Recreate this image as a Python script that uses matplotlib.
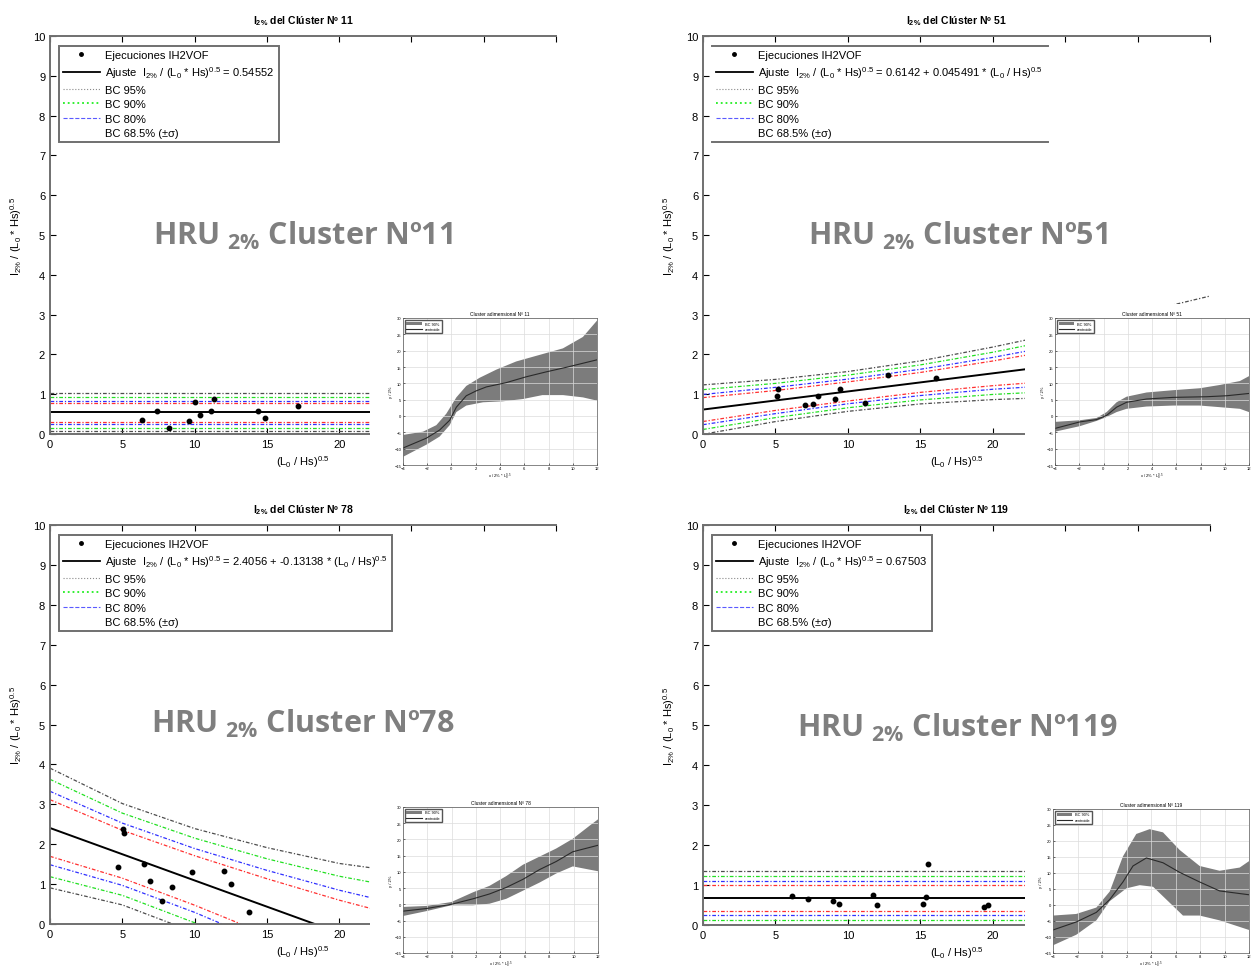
import matplotlib.pyplot as plt
from matplotlib.lines import Line2D
from matplotlib.patches import Rectangle
import numpy as np

plt.rcParams['font.family'] = ['Liberation Sans', 'DejaVu Sans']
plt.rcParams['mathtext.default'] = 'regular'

W, H = 1259, 970

# stations along (L0/Hs)^0.5 where fit and band widths were read
x_st = [0, 5, 10, 15, 20, 22.2, 35]

# --- cluster 11 (constant fit)
pts11_x = [6.38, 7.38, 8.25, 9.61, 10.03, 10.37, 11.13, 11.34, 14.36, 14.87, 17.17]
pts11_y = [0.34, 0.59, 0.15, 0.33, 0.81, 0.48, 0.59, 0.88, 0.59, 0.41, 0.70]
fit11_y = [0.5455] * 7
hw11_95 = [0.48] * 7
hw11_90 = [0.39] * 7
hw11_80 = [0.295] * 7
hw11_68 = [0.245] * 7

# --- cluster 51 (linear fit)
pts51_x = [5.18, 5.13, 7.01, 7.56, 7.95, 9.12, 9.46, 11.18, 12.78, 16.1]
pts51_y = [1.13, 0.96, 0.73, 0.75, 0.95, 0.88, 1.13, 0.78, 1.47, 1.40]
fit51_y = [0.614, 0.842, 1.069, 1.296, 1.524, 1.624, 2.206]
hw51_95 = [0.62, 0.53, 0.50, 0.54, 0.66, 0.73, 1.26]
hw51_90 = [0.50, 0.43, 0.41, 0.44, 0.53, 0.59, 1.02]
hw51_80 = [0.38, 0.33, 0.31, 0.33, 0.40, 0.45, 0.77]
hw51_68 = [0.30, 0.25, 0.24, 0.25, 0.31, 0.35, 0.59]

# --- cluster 78 (linear fit)
pts78_x = [4.73, 5.03, 5.14, 6.50, 6.92, 7.77, 8.41, 9.80, 12.03, 12.52, 13.76]
pts78_y = [1.43, 2.38, 2.27, 1.50, 1.08, 0.57, 0.92, 1.30, 1.33, 0.99, 0.29]
fit78_y = [2.406, 1.749, 1.092, 0.435, -0.222, -0.511, -2.192]
hw78_95 = [1.50, 1.27, 1.30, 1.48, 1.74, 1.92, 2.9]
hw78_90 = [1.22, 1.03, 1.06, 1.20, 1.42, 1.56, 2.4]
hw78_80 = [0.92, 0.78, 0.80, 0.91, 1.07, 1.17, 1.8]
hw78_68 = [0.71, 0.60, 0.62, 0.70, 0.82, 0.90, 1.4]

# --- cluster 119 (constant fit)
pts119_x = [6.12, 7.26, 9.00, 9.39, 11.75, 12.03, 15.17, 15.42, 15.53, 19.43, 19.70]
pts119_y = [0.715, 0.65, 0.60, 0.52, 0.76, 0.50, 0.52, 0.69, 1.52, 0.45, 0.50]
fit119_y = [0.675] * 7
hw119_95 = [0.67] * 7
hw119_90 = [0.545] * 7
hw119_80 = [0.425] * 7
hw119_68 = [0.325] * 7

# --- inset curves (centroid and 90% band)
c11_x = [-4, -2.08, -0.98, -0.15, 0.4, 1.22, 2.04, 2.87, 4.5, 6.16, 7.8, 9.46, 12]
c11_y = [-9.8, -6.8, -4.3, -1.3, 2.7, 6.2, 7.7, 8.9, 10.2, 12.0, 13.5, 14.9, 17.2]
u11_x = [-4, -2.35, -1.25, -0.43, 0.4, 1.22, 2.32, 3.7, 5.34, 7.26, 9.19, 10.84, 12]
u11_y = [-5.8, -4.8, -2.8, 0.7, 5.7, 9.2, 11.7, 14.2, 16.7, 18.7, 20.7, 24.2, 29.2]
l11_x = [-4, -2.08, -0.98, -0.15, 0.4, 1.22, 2.6, 4.24, 5.9, 7.5, 9.2, 10.84, 12]
l11_y = [-12.5, -8.8, -6.3, -2.8, 1.2, 3.2, 4.2, 4.5, 5.2, 6.4, 6.4, 5.7, 4.7]

c51_x = [-4, -1.94, -0.57, 0.26, 1.08, 1.9, 3.55, 5.75, 8.5, 10.15, 12]
c51_y = [-3.8, -1.8, -1.1, 0.2, 2.7, 4.2, 5.2, 5.7, 5.9, 6.2, 6.9]
u51_x = [-4, -1.94, -0.57, 0.26, 1.08, 1.9, 3.55, 5.75, 7.95, 9.6, 11.25, 12]
u51_y = [-1.8, -1.3, -0.6, 1.2, 4.2, 5.9, 7.2, 7.9, 8.5, 9.5, 10.7, 12.2]
l51_x = [-4, -1.94, -0.57, 0.26, 1.08, 1.9, 3.55, 5.75, 7.95, 9.6, 11.25, 12]
l51_y = [-4.8, -3.1, -1.5, -0.3, 1.2, 2.2, 2.9, 3.2, 3.2, 2.7, 2.2, 1.2]

c78_x = [-4, -2.09, -0.04, 1.74, 3.1, 4.47, 5.84, 7.2, 8.57, 9.93, 12]
c78_y = [-2.1, -1.3, 0.0, 1.7, 3.2, 5.2, 7.7, 10.7, 13.2, 16.2, 18.2]
u78_x = [-4, -2.09, -0.04, 1.74, 3.1, 4.47, 5.84, 7.2, 8.57, 9.93, 11.3, 12]
u78_y = [-0.8, -0.5, 0.7, 3.7, 5.7, 8.7, 12.2, 14.7, 17.2, 20.2, 24.2, 26.2]
l78_x = [-4, -2.09, -0.04, 1.74, 3.1, 4.47, 5.84, 7.2, 8.57, 9.93, 11.3, 12]
l78_y = [-3.6, -2.1, -0.3, -0.3, 0.2, 1.7, 4.2, 6.7, 9.5, 11.7, 10.7, 10.2]

c119_x = [-4, -2.1, -0.46, 0.63, 1.71, 2.53, 3.62, 4.98, 6.34, 7.97, 9.6, 12]
c119_y = [-7.8, -5.3, -2.3, 1.7, 7.2, 12.2, 14.7, 13.2, 10.2, 7.2, 4.4, 3.2]
u119_x = [-4, -2.1, -0.46, 0.63, 1.71, 2.8, 3.89, 4.98, 6.34, 7.97, 9.6, 11.24, 12]
u119_y = [-3.3, -2.8, -0.8, 4.2, 15.2, 22.2, 23.7, 22.7, 17.2, 12.2, 10.7, 11.7, 13.7]
l119_x = [-4, -2.1, -0.46, 0.63, 1.99, 3.08, 4.17, 5.8, 6.61, 7.97, 9.6, 12]
l119_y = [-12.6, -9.3, -4.8, 1.2, 5.2, 6.2, 5.7, -0.3, -3.3, -3.3, -4.8, -7.8]

band_colors = ['#4d4d4d', '#22e022', '#3030ff', '#ff3030']
band_dash = (0, (3, 1.5, 1, 1.5))

fig = plt.figure(figsize=(W / 100, H / 100), dpi=100)


def frac(l, t, r, b):
    return [l / W, 1 - b / H, (r - l) / W, (b - t) / H]


def main_panel(rect, num, fit_txt, px, py, fit_y, hws, boxed=True):
    ax = fig.add_axes(frac(*rect))
    xs = np.array(x_st)
    fy = np.array(fit_y)
    for c, hw in zip(band_colors, hws):
        hw = np.array(hw)
        ax.plot(xs, fy + hw, color=c, lw=0.9, ls=band_dash)
        ax.plot(xs, fy - hw, color=c, lw=0.9, ls=band_dash)
    ax.plot(xs, fy, color='k', lw=1.4)
    ax.plot(px, py, 'o', color='k', ms=3.2, ls='none')
    ax.set_xlim(0, 35)
    ax.set_ylim(0, 10)
    ax.set_xticks(range(0, 36, 5))
    ax.set_yticks(range(0, 11))
    ax.tick_params(direction='in', top=True, labelsize=8, length=4, width=0.8)
    for s in ['left', 'bottom', 'top']:
        ax.spines[s].set_color('#707070')
        ax.spines[s].set_linewidth(1.4)
    ax.spines['right'].set_visible(False)
    ax.set_title(r'$I_{2\%}$ del Clúster Nº ' + num, fontsize=7.5,
                 fontweight='bold', pad=9)
    ax.set_xlabel(r'($L_0$ / Hs)$^{0.5}$', fontsize=8, labelpad=3)
    ax.set_ylabel(r'$I_{2\%}$ / ($L_0$ * Hs)$^{0.5}$', fontsize=8, labelpad=6)

    handles = [Line2D([], [], marker='o', ms=2.5, color='k', ls='none'),
               Line2D([], [], color='k', lw=1.3),
               Line2D([], [], color='#8a8a8a', lw=0.8, ls=':'),
               Line2D([], [], color='#22ee22', lw=1.3, ls=':'),
               Line2D([], [], color='#5a5aff', lw=0.8, ls='--'),
               Line2D([], [], color='none')]
    labels = ['Ejecuciones IH2VOF',
              r'Ajuste  $I_{2\%}$ / ($L_0$ * Hs)$^{0.5}$ = ' + fit_txt,
              'BC 95%', 'BC 90%', 'BC 80%', 'BC 68.5% (±σ)']
    leg = ax.legend(handles, labels, loc='upper left', bbox_to_anchor=(0.006, 0.99),
                    fontsize=8, handlelength=3.3, handletextpad=0.5,
                    labelspacing=0.4, borderpad=0.4, fancybox=False,
                    framealpha=1, edgecolor='#707070', frameon=boxed)
    leg.get_frame().set_linewidth(1.4)
    return ax, leg


def hru_text(cx, cy, num):
    fig.text(cx / W, 1 - cy / H, r'HRU $_{2\%}$ Cluster Nº' + num, fontsize=22,
             color='#7f7f7f', fontweight='bold', family='Open Sans',
             ha='center', va='center')


def inset(cover, rect, num, cx, cy, ux, uy, lx, ly):
    l, t, r, b = cover
    fig.add_artist(Rectangle((l / W, 1 - b / H), (r - l) / W, (b - t) / H,
                             transform=fig.transFigure, facecolor='white',
                             edgecolor='none', zorder=5))
    ia = fig.add_axes(frac(*rect), zorder=6)
    ia.fill(np.r_[ux, lx[::-1]], np.r_[uy, ly[::-1]], color='#7c7c7c', lw=0,
            label='BC 90%')
    ia.plot(cx, cy, color='#2a2a2a', lw=0.8, label='centroide')
    ia.set_xlim(-4, 12)
    ia.set_ylim(-15, 30)
    ia.set_xticks(range(-4, 13, 2))
    ia.set_yticks(range(-15, 31, 5))
    ia.grid(True, color='#dcdcdc', lw=0.5)
    ia.tick_params(labelsize=3, length=1.5, direction='in', pad=1, width=0.4)
    for s in ia.spines.values():
        s.set_linewidth(0.5)
        s.set_color('#555555')
    ia.set_title('Cluster adimensional Nº ' + num, fontsize=3.5, pad=2)
    ia.set_ylabel('y / 2%', fontsize=3, labelpad=1)
    ia.set_xlabel(r'x / 2% * $L_0^{0.5}$', fontsize=3, labelpad=0)
    ia.legend(loc='upper left', fontsize=2.8, handlelength=4, borderpad=0.4,
              fancybox=False, edgecolor='#555555', framealpha=1)


ax1, _ = main_panel((50, 37, 556, 435), '11', '0.54552', pts11_x, pts11_y, fit11_y,
                    [hw11_95, hw11_90, hw11_80, hw11_68])
ax2, leg2 = main_panel((703, 37, 1210, 435), '51',
                       r'0.6142 + 0.045491 * ($L_0$ / Hs)$^{0.5}$',
                       pts51_x, pts51_y, fit51_y,
                       [hw51_95, hw51_90, hw51_80, hw51_68], boxed=False)
ax3, _ = main_panel((50, 526, 556, 925), '78',
                    r'2.4056 + -0.13138 * ($L_0$ / Hs)$^{0.5}$',
                    pts78_x, pts78_y, fit78_y,
                    [hw78_95, hw78_90, hw78_80, hw78_68])
ax4, _ = main_panel((703, 526, 1210, 926), '119', '0.67503', pts119_x, pts119_y,
                    fit119_y, [hw119_95, hw119_90, hw119_80, hw119_68])

hru_text(303, 236, '11')
hru_text(958, 236, '51')
hru_text(303, 724, '78')
hru_text(958, 728, '119')

inset((370, 305, 604, 470), (403, 319, 597, 466), '11',
      c11_x, c11_y, u11_x, u11_y, np.array(l11_x), np.array(l11_y))
inset((1025, 305, 1259, 470), (1055, 319, 1249, 466), '51',
      c51_x, c51_y, u51_x, u51_y, np.array(l51_x), np.array(l51_y))
inset((370, 795, 604, 970), (403, 808, 598, 954), '78',
      c78_x, c78_y, u78_x, u78_y, np.array(l78_x), np.array(l78_y))
inset((1025, 795, 1259, 970), (1053, 810, 1249, 954), '119',
      c119_x, c119_y, u119_x, u119_y, np.array(l119_x), np.array(l119_y))

# cluster 51 legend only shows its top and bottom rules
fig.canvas.draw()
bb = leg2.get_window_extent().transformed(fig.transFigure.inverted())
for yy in (bb.y0, bb.y1):
    fig.add_artist(Line2D([bb.x0, bb.x1], [yy, yy], transform=fig.transFigure,
                          color='#707070', lw=1.4))

fig.savefig('out.png', dpi=100)
